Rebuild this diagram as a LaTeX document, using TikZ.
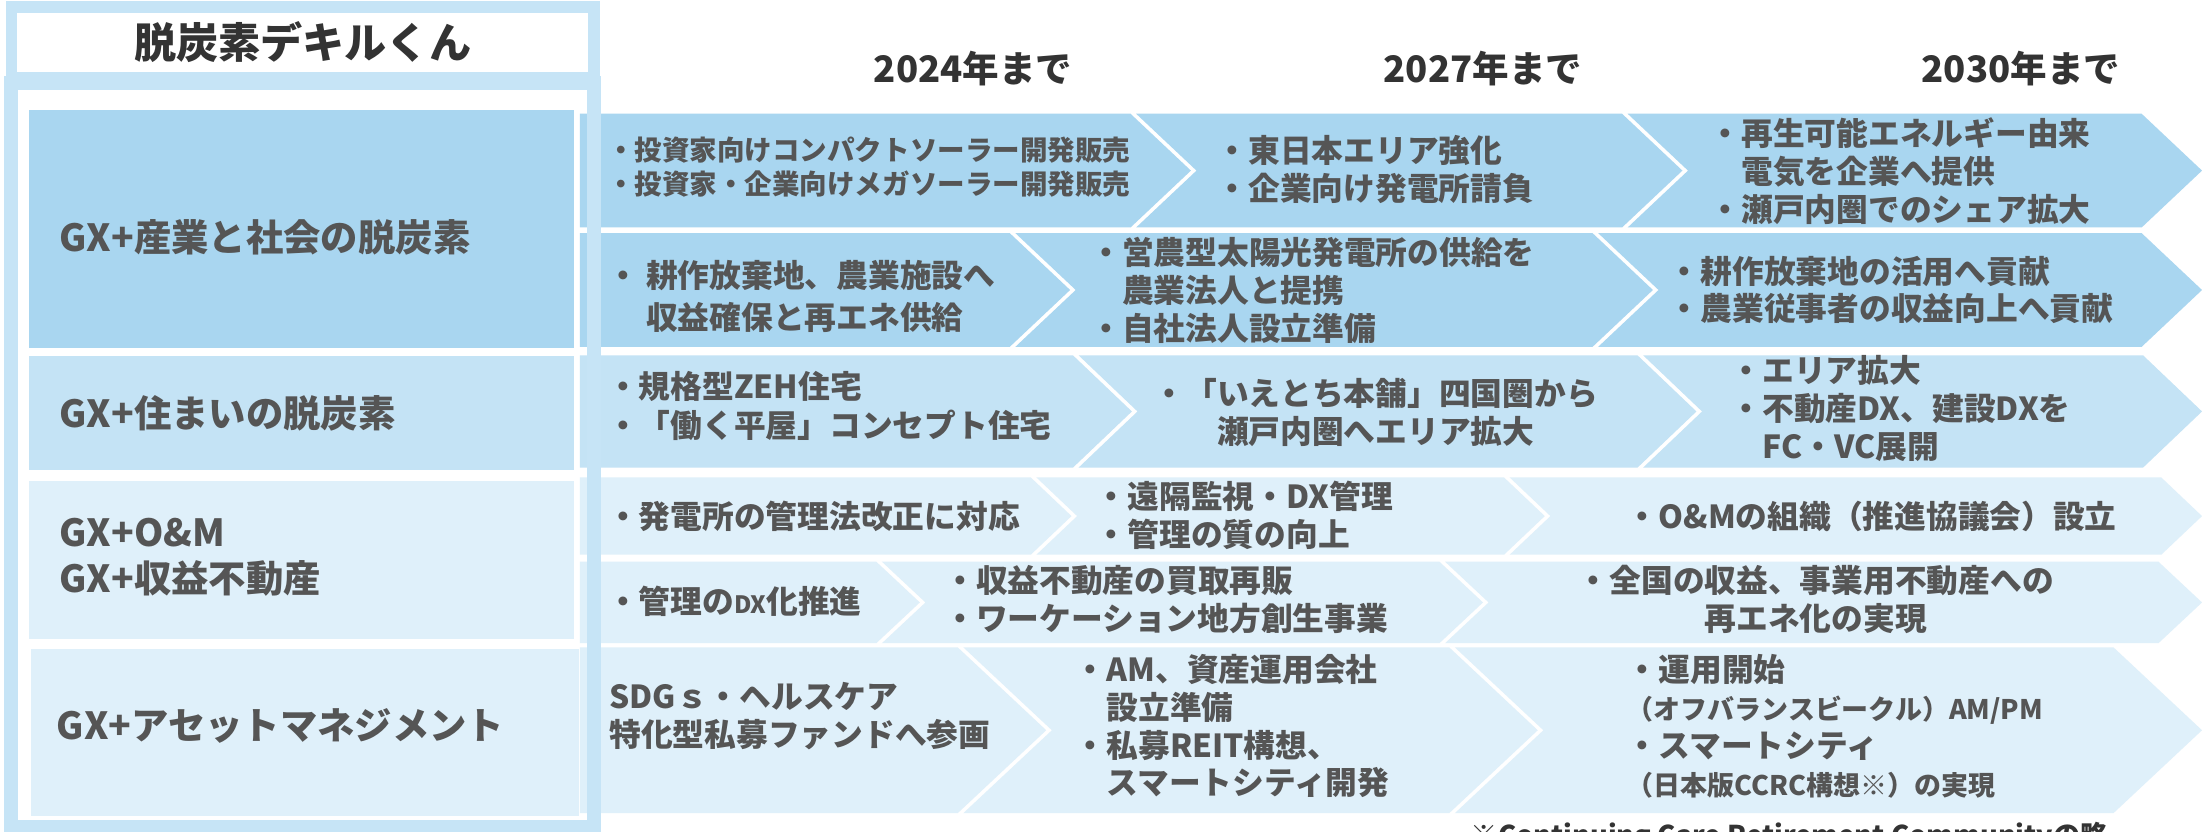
\documentclass[tikz,border=0pt]{standalone}
\usepackage{fontspec}
\setmainfont{Noto Sans CJK JP}
\definecolor{cA}{HTML}{A9D6F0}
\definecolor{cB}{HTML}{C4E3F5}
\definecolor{cC}{HTML}{DFF0FA}
\definecolor{frm}{HTML}{C6E4F6}
\definecolor{txt}{HTML}{555555}
\definecolor{dark}{HTML}{333333}
% first chevron (flat left side): x1 x2 ytop ybot depth colour
\newcommand{\chevA}[6]{\fill[#6] (#1,#3) -- (#2,#3) -- ({#2+#5},{(#3+#4)/2}) -- (#2,#4) -- (#1,#4) -- cycle;}
% notched chevron
\newcommand{\chevB}[6]{\fill[#6] (#1,#3) -- (#2,#3) -- ({#2+#5},{(#3+#4)/2}) -- (#2,#4) -- (#1,#4) -- ({#1+#5},{(#3+#4)/2}) -- cycle;}
\newcommand{\bodyfont}{\fontsize{11.3}{13.5}\selectfont\bfseries}
\newcommand{\smallbody}{\fontsize{9.8}{12.3}\selectfont\bfseries}
\newcommand{\lblfont}{\fontsize{13.3}{16.5}\selectfont\bfseries}
\newcommand{\parfont}{\fontsize{9.6}{10}\selectfont}
\begin{document}
\begin{tikzpicture}[x=0.5pt,y=-0.5pt,
  body/.style={inner sep=0pt, anchor=west, align=left, text=txt, font=\bodyfont},
  lbl/.style={inner sep=0pt, anchor=west, align=left, text=txt, font=\lblfont},
  year/.style={inner sep=0pt, text=dark, font=\fontsize{13}{15}\selectfont\bfseries}]
\useasboundingbox (0,0) rectangle (1568,592);
\clip (0,0) rectangle (1568,592);
\fill[white] (0,0) rectangle (1568,592);

% label boxes
\fill[cA] (21,78) rectangle (408.5,248);
\fill[cB] (21,253.5) rectangle (408.5,335);
\fill[cC] (21,342.5) rectangle (409,455);
\fill[cC] (22,462) rectangle (412,581);

% chevron rows
% row 1a
\chevA{413}{805}{81}{162}{43}{cA}
\chevB{809}{1155}{81}{162}{43}{cA}
\chevB{1159}{1525}{81}{162}{43}{cA}
% row 1b
\chevA{413}{719}{166}{247}{43}{cA}
\chevB{723}{1134}{166}{247}{43}{cA}
\chevB{1138}{1525}{166}{247}{43}{cA}
% row 2
\chevA{413}{764}{253}{333}{42}{cB}
\chevB{768}{1166}{253}{333}{42}{cB}
\chevB{1170}{1526}{253}{333}{42}{cB}
% row 3a
\chevA{413}{734}{340}{395}{29}{cC}
\chevB{738}{1071}{340}{395}{29}{cC}
\chevB{1075}{1539}{340}{395}{29}{cC}
% row 3b
\chevA{413}{624}{400}{458}{31}{cC}
\chevB{628}{1025}{400}{458}{31}{cC}
\chevB{1029}{1537}{400}{458}{31}{cC}
% row 4
\chevA{413}{682}{461}{579}{63}{cC}
\chevB{686}{1032}{461}{579}{63}{cC}
\chevB{1036}{1505}{461}{579}{63}{cC}

% chevron texts
\node[body, font=\smallbody] (t1aA) at (432,119) {・投資家向けコンパクトソーラー開発販売\\・投資家・企業向けメガソーラー開発販売};
\node[body] (t1aB) at (866,121) {・東日本エリア強化\\・企業向け発電所請負};
\node[body] (t1aC) at (1217,122) {・再生可能エネルギー由来\\\phantom{・}電気を企業へ提供\\・瀬戸内圏でのシェア拡大};
\node[body, font=\fontsize{11.3}{15}\selectfont\bfseries] (t1bA) at (432,211) {・ 耕作放棄地、農業施設へ\\\phantom{・ }収益確保と再エネ供給};
\node[body] (t1bB) at (776,207) {・営農型太陽光発電所の供給を\\\phantom{・}農業法人と提携\\・自社法人設立準備};
\node[body] (t1bC) at (1188,206.5) {・耕作放棄地の活用へ貢献\\・農業従事者の収益向上へ貢献};
\node[body, font=\fontsize{11.3}{14}\selectfont\bfseries] (t2A) at (432,289) {・規格型ZEH住宅\\・「働く平屋」コンセプト住宅};
\node[body] (t2B) at (821,294) {・「いえとち本舗」四国圏から\\\phantom{・「}瀬戸内圏へエリア拡大};
\node[body] (t2C) at (1232,291) {・エリア拡大\\・不動産DX、建設DXを\\\phantom{・}FC・VC展開};
\node[body] (t3aA) at (432,368) {・発電所の管理法改正に対応};
\node[body] (t3aB) at (780,367) {・遠隔監視・DX管理\\・管理の質の向上};
\node[body] (t3aC) at (1158,368) {・O\&Mの組織（推進協議会）設立};
\node[body] (t3bA) at (432,428) {・管理の{\fontsize{8.5}{10}\selectfont DX}化推進};
\node[body] (t3bB) at (672,427) {・収益不動産の買取再販\\・ワーケーション地方創生事業};
\node[body, anchor=center, align=center] (t3bC) at (1293,427) {・全国の収益、事業用不動産への\\再エネ化の実現};
\node[body] (t4A) at (411,510) {・SDGｓ・ヘルスケア\\\phantom{・}特化型私募ファンドへ参画};
\node[body] (t4B) at (765,517) {・AM、資産運用会社\\\phantom{・}設立準備\\・私募REIT構想、\\\phantom{・}スマートシティ開発};
\node[body] (t4C) at (1158,517) {・運用開始\\{\parfont（オフバランスビークル）AM/PM}\\・スマートシティ\\{\parfont（日本版CCRC構想※）の実現}};

% frame and title (drawn over the chevrons)
\draw[frm, line width=5] (8,59) rectangle (423,589);
\draw[frm, line width=4, fill=white] (8,5) rectangle (423,55);
\node[inner sep=0pt, text=dark, font=\fontsize{15}{18}\selectfont\bfseries] (title) at (215.5,30) {脱炭素デキルくん};

% row labels
\node[lbl] (l1) at (42,169) {GX+産業と社会の脱炭素};
\node[lbl] (l2) at (42,294) {GX+住まいの脱炭素};
\node[lbl] (l3) at (42,397) {GX+O\&M\\GX+収益不動産};
\node[lbl] (l4) at (40,517) {GX+アセットマネジメント};

% year headers
\node[year] (y1) at (693,49) {2024年まで};
\node[year] (y2) at (1056,49) {2027年まで};
\node[year] (y3) at (1439,49) {2030年まで};

% footnote (cut by the lower edge, as in the reference)
\node[inner sep=0pt, anchor=north west, text=dark, font=\fontsize{9.7}{12}\selectfont\bfseries] (fn) at (1047,585) {※Continuing Care Retirement Communityの略};
\end{tikzpicture}
\end{document}
